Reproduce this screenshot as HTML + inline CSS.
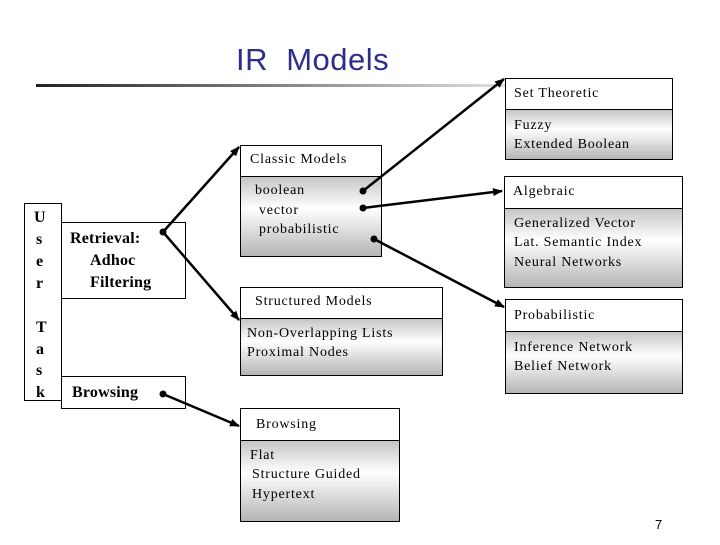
<!DOCTYPE html>
<html><head><meta charset="utf-8"><style>
body{margin:0;width:720px;height:540px;background:#fff;overflow:hidden}
svg text{font-family:"Liberation Serif",serif;font-size:14px;fill:#000;letter-spacing:0.8px}
</style></head><body>
<svg width="720" height="540" xmlns="http://www.w3.org/2000/svg">
<defs>
<linearGradient id="g" x1="0" y1="0" x2="0" y2="1">
<stop offset="0" stop-color="#c4c4c4"/><stop offset="0.4" stop-color="#fff"/><stop offset="1" stop-color="#b4b4b4"/>
</linearGradient>
<linearGradient id="ln" x1="0" y1="0" x2="1" y2="0">
<stop offset="0" stop-color="#222"/><stop offset="0.5" stop-color="#888"/><stop offset="1" stop-color="#eee"/>
</linearGradient>
<marker id="a" markerWidth="10" markerHeight="10" refX="9" refY="5" orient="auto" markerUnits="userSpaceOnUse">
<path d="M0,1 L10,5 L0,9 Z" fill="#000"/></marker>
</defs>
<text x="236" y="70" xml:space="preserve" style="font-family:'Liberation Sans',sans-serif;font-size:31px;fill:#2e2e8a;letter-spacing:0.5px">IR  Models</text>
<rect x="36" y="84" width="504" height="3" fill="url(#ln)"/>

<g stroke="#000" stroke-width="1" fill="#fff">
<rect x="24.5" y="203.5" width="37" height="197"/>
<rect x="61.5" y="222.5" width="124" height="76"/>
<rect x="61.5" y="376.5" width="124" height="32"/>
<rect x="240.5" y="145.5" width="141" height="31"/><rect x="240.5" y="176.5" width="141" height="80" fill="url(#g)"/>
<rect x="240.5" y="287.5" width="202" height="31"/><rect x="240.5" y="318.5" width="202" height="57" fill="url(#g)"/>
<rect x="240.5" y="408.5" width="159" height="32"/><rect x="240.5" y="440.5" width="159" height="81" fill="url(#g)"/>
<rect x="505.5" y="78.5" width="167" height="31"/><rect x="505.5" y="109.5" width="167" height="50" fill="url(#g)"/>
<rect x="504.5" y="176.5" width="178" height="32"/><rect x="504.5" y="208.5" width="178" height="79" fill="url(#g)"/>
<rect x="505.5" y="299.5" width="177" height="32"/><rect x="505.5" y="331.5" width="177" height="62" fill="url(#g)"/>
</g>

<g>
<text x="34" y="222" style="font-size:16px;font-weight:bold">U</text>
<text x="36" y="244" style="font-size:16px;font-weight:bold">s</text>
<text x="36" y="266" style="font-size:16px;font-weight:bold">e</text>
<text x="36" y="288" style="font-size:16px;font-weight:bold">r</text>
<text x="36" y="332" style="font-size:16px;font-weight:bold">T</text>
<text x="36" y="354" style="font-size:16px;font-weight:bold">a</text>
<text x="36" y="375" style="font-size:16px;font-weight:bold">s</text>
<text x="36" y="397" style="font-size:16px;font-weight:bold">k</text>
<text x="70" y="243" style="font-size:16px;font-weight:bold;letter-spacing:0.2px">Retrieval:</text>
<text x="90" y="265" style="font-size:16px;font-weight:bold;letter-spacing:0.2px">Adhoc</text>
<text x="90" y="287" style="font-size:16px;font-weight:bold;letter-spacing:0.2px">Filtering</text>
<text x="72" y="397" style="font-size:16px;font-weight:bold;letter-spacing:0.2px">Browsing</text>
</g>

<text x="250" y="163">Classic Models</text>
<text x="255" y="194">boolean</text>
<text x="259" y="214">vector</text>
<text x="259" y="233">probabilistic</text>
<text x="255" y="305">Structured Models</text>
<text x="247" y="337">Non-Overlapping Lists</text>
<text x="247" y="356">Proximal Nodes</text>
<text x="256" y="428">Browsing</text>
<text x="250" y="459">Flat</text>
<text x="252" y="478">Structure Guided</text>
<text x="252" y="498">Hypertext</text>
<text x="514" y="97">Set Theoretic</text>
<text x="514" y="129">Fuzzy</text>
<text x="514" y="148">Extended Boolean</text>
<text x="513" y="195">Algebraic</text>
<text x="514" y="227">Generalized Vector</text>
<text x="514" y="246">Lat. Semantic Index</text>
<text x="514" y="266">Neural Networks</text>
<text x="514" y="319">Probabilistic</text>
<text x="514" y="351">Inference Network</text>
<text x="514" y="370">Belief Network</text>
<text x="655" y="529" style="font-family:'Liberation Sans',sans-serif;font-size:13px;letter-spacing:0">7</text>

<g stroke="#000" stroke-width="2.5" fill="none" marker-end="url(#a)">
<line x1="163" y1="232" x2="239" y2="147"/>
<line x1="163" y1="232" x2="239" y2="320"/>
<line x1="163" y1="394" x2="239" y2="426"/>
<line x1="363" y1="191" x2="504" y2="79"/>
<line x1="363" y1="208" x2="502" y2="191"/>
<line x1="374" y1="239" x2="504" y2="307"/>
</g>
<g fill="#000">
<circle cx="163" cy="232" r="3.5"/><circle cx="163" cy="394" r="3.5"/>
<circle cx="363" cy="191" r="3.5"/><circle cx="363" cy="208" r="3.5"/><circle cx="374" cy="239" r="3.5"/>
</g>
</svg>
</body></html>
